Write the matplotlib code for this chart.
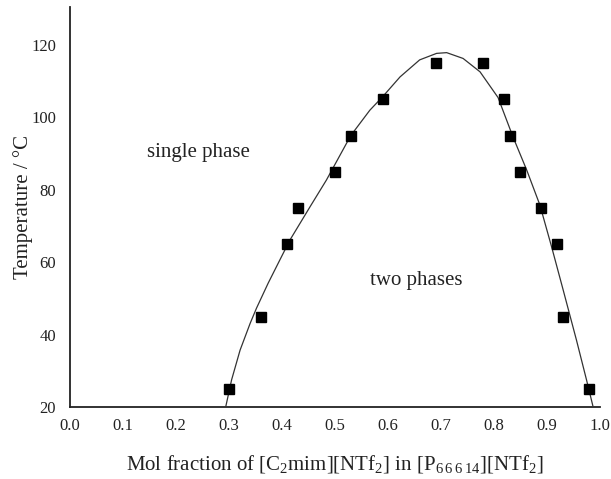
import matplotlib
matplotlib.use("Agg")
from matplotlib import pyplot as plt

plt.rcParams['font.family'] = ['Liberation Serif', 'DejaVu Serif']
plt.rcParams['mathtext.fontset'] = 'custom'
plt.rcParams['mathtext.rm'] = 'Liberation Serif'

# measured cloud points
mol_fraction = [0.30, 0.36, 0.41, 0.43, 0.50, 0.53, 0.59, 0.69,
                0.78, 0.82, 0.83, 0.85, 0.89, 0.92, 0.93, 0.98]
temperature = [25, 45, 65, 75, 85, 95, 105, 115,
               115, 105, 95, 85, 75, 65, 45, 25]

# fitted binodal curve
curve_x = [0.294, 0.305, 0.321, 0.340, 0.352, 0.374, 0.396, 0.415, 0.453,
           0.484, 0.530, 0.566, 0.590, 0.623, 0.660, 0.692, 0.711, 0.742,
           0.774, 0.808, 0.836, 0.862, 0.887, 0.909, 0.931, 0.956, 0.975, 0.987]
curve_t = [20.1, 27.5, 35.7, 43.1, 47.3, 54.2, 60.6, 66.1, 75.3,
           82.7, 95.0, 102.0, 105.7, 111.2, 115.9, 117.7, 117.9, 116.3,
           112.6, 105.5, 94.7, 85.5, 75.8, 64.3, 52.3, 38.5, 27.5, 20.3]

xticks = [0.0, 0.1, 0.2, 0.3, 0.4, 0.5, 0.6, 0.7, 0.8, 0.9, 1.0]
yticks = [20, 40, 60, 80, 100, 120]

fig = plt.figure(figsize=(6.11, 4.79), dpi=100)
ax = fig.add_axes([0.1146, 0.1503, 0.867, 0.835])

ax.plot(curve_x, curve_t, color='#333333', linewidth=0.9, zorder=2)
ax.plot(mol_fraction, temperature, linestyle='none', marker='s',
        markersize=6.5, color='black', zorder=3)

ax.set_xlim(0, 1.0)
ax.set_ylim(20, 130.5)
ax.set_xticks(xticks)
ax.set_xticklabels([f"{v:.1f}" for v in xticks])
ax.set_yticks(yticks)
ax.tick_params(length=0, labelsize=12, colors='#222222')
ax.tick_params(axis='y', pad=10)
ax.tick_params(axis='x', pad=8)

for side in ['top', 'right']:
    ax.spines[side].set_visible(False)
for side in ['left', 'bottom']:
    ax.spines[side].set_linewidth(1.3)
    ax.spines[side].set_color('#222222')
    ax.spines[side].set_zorder(1)

ax.set_ylabel('Temperature / °C', fontsize=15, color='#222222')
ax.yaxis.set_label_coords(-0.07, 0.5)
ax.set_xlabel(r'Mol fraction of [C$_\mathregular{2}$mim][NTf$_\mathregular{2}$] in '
              r'[P$_\mathregular{6\,6\,6\,14}$][NTf$_\mathregular{2}$]',
              fontsize=15, color='#222222', labelpad=14)

ax.text(0.242, 90.3, 'single phase', fontsize=15, ha='center', va='center',
        color='#222222')
ax.text(0.653, 54.9, 'two phases', fontsize=15, ha='center', va='center',
        color='#222222')

plt.savefig('out.png', dpi=100)
